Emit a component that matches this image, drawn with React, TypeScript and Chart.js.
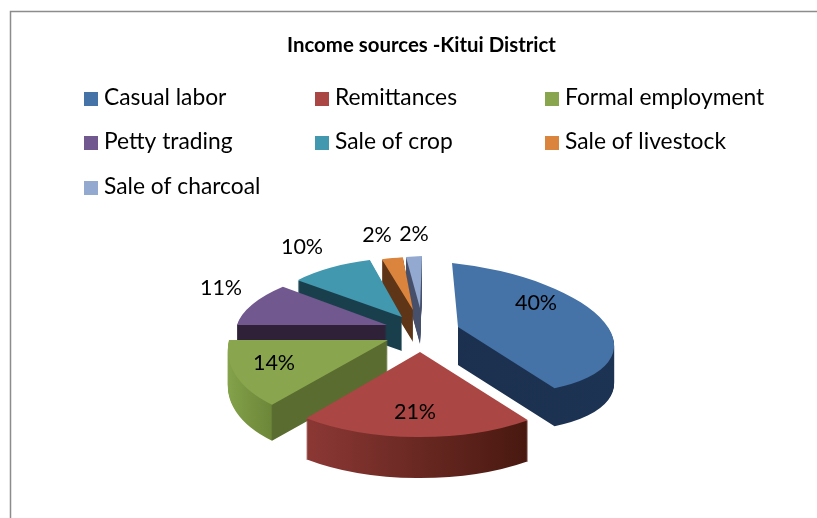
import React, { useEffect, useRef } from "react";
import { Chart, registerables } from "chart.js";

Chart.register(...registerables);

const categories = ["Casual labor", "Remittances", "Formal employment", "Petty trading", "Sale of crop", "Sale of livestock", "Sale of charcoal"];
const shares = [40, 21, 14, 11, 10, 2, 2];
const chartTitle = "Income sources -Kitui District";

const topColors = ["#4572A7", "#AA4643", "#89A54E", "#71588F", "#4198AF", "#DB843D", "#93A9CF"];
// wall colour stops over the slice's own horizontal span (-1 .. 1 of the radius)
const wallStops: [number, string][][] = [
  [[-1, "#1a2e4b"], [1, "#1d3353"]],
  [[-1, "#8f3a37"], [-0.6, "#8a3734"], [0.6, "#47180f"], [1, "#40140f"]],
  [[-1, "#85a44b"], [-0.645, "#6d8739"], [-0.635, "#5a6c30"], [1, "#5a6c30"]],
  [[-1, "#2e2138"], [1, "#2e2138"]],
  [[-1, "#1a3f4c"], [1, "#1a3f4c"]],
  [[-1, "#5f3517"], [1, "#5f3517"]],
  [[-1, "#46506b"], [1, "#46506b"]],
];
// projection of each exploded slice: apex, image of the slice's x and y radii, wall height
const apexes = [[458, 327], [420, 352], [388, 340], [387, 325], [402, 317], [413, 310], [420, 308]];
const axes = [
  [156, 16, 6, 64],
  [181, -1, 2, 85],
  [159, 0, -19, 84],
  [150, 0, -18, 60],
  [137, -1, -2, 59],
  [168, -6, -11, 54],
  [128, -5, -2, 52],
];
const wallHeights = [38, 41, 36, 30, 34, 32, 36];
const wallsStartAtApex = [true, false, false, false, false, false, false];
const paintOrder = [6, 5, 4, 3, 2, 0, 1];
const labelSpots = [[536, 303], [415, 412], [274, 363], [221, 288], [302, 247], [377, 235], [414, 234]];
const legendColumns = [84, 315, 545];
const legendRows = [98, 142, 187];

const FONT = "Lato, sans-serif";

const piePlugin = {
  id: "pie3d",
  beforeDraw(chart: any) {
    const ctx = chart.ctx;
    ctx.save();
    ctx.strokeStyle = "#8c8c8c";
    ctx.lineWidth = 1.5;
    ctx.beginPath();
    ctx.moveTo(817, 11.5);
    ctx.lineTo(10.5, 11.5);
    ctx.lineTo(10.5, 518);
    ctx.stroke();
    ctx.restore();
  },
  beforeDatasetDraw(chart: any) {
    const ctx = chart.ctx;
    const arcs = chart.getDatasetMeta(0).data;
    paintOrder.forEach((i) => {
      const arc = arcs[i];
      const R = arc.outerRadius;
      const [ax, ay] = apexes[i];
      const [m11, m21, m12, m22] = axes[i];
      const a = m11 / R, b = m21 / R, c = m12 / R, d = m22 / R;
      const base = arc.options;
      const grad = ctx.createLinearGradient(arc.x - R, 0, arc.x + R, 0);
      wallStops[i].forEach(([p, col]) => grad.addColorStop((p + 1) / 2, col));
      const paint = (dy: number, fill: any) => {
        ctx.save();
        ctx.setTransform(a, b, c, d, ax - a * arc.x - c * arc.y, ay + dy - b * arc.x - d * arc.y);
        arc.options = { ...base, backgroundColor: fill, borderWidth: 0 };
        arc.draw(ctx);
        ctx.restore();
      };
      ctx.save();
      if (wallsStartAtApex[i]) {
        ctx.beginPath();
        ctx.rect(ax, ay, chart.width - ax, chart.height - ay);
        ctx.clip();
      }
      for (let t = wallHeights[i]; t >= 1; t--) paint(t, grad);
      ctx.restore();
      paint(0, topColors[i]);
      arc.options = base;
    });
    return false;
  },
  afterDraw(chart: any) {
    const ctx = chart.ctx;
    ctx.save();
    ctx.fillStyle = "#000";
    ctx.textBaseline = "middle";
    ctx.textAlign = "center";
    ctx.font = `21.5px ${FONT}`;
    shares.forEach((v, i) => ctx.fillText(`${v}%`, labelSpots[i][0], labelSpots[i][1]));
    ctx.textAlign = "left";
    ctx.font = `22.8px ${FONT}`;
    categories.forEach((name, i) => {
      const x = legendColumns[i % 3];
      const y = legendRows[Math.floor(i / 3)];
      ctx.fillStyle = topColors[i];
      ctx.fillRect(x, y - 6, 14, 14);
      ctx.fillStyle = "#000";
      ctx.fillText(name, x + 20, y);
    });
    ctx.restore();
  },
};

export default function App() {
  const ref = useRef<HTMLCanvasElement>(null);
  useEffect(() => {
    document.body.style.margin = "0";
    const chart = new Chart(ref.current as HTMLCanvasElement, {
      type: "pie",
      data: {
        labels: categories,
        datasets: [{ data: shares, backgroundColor: topColors, borderWidth: 0 }],
      },
      options: {
        animation: false,
        responsive: false,
        layout: { padding: { left: 26 } },
        plugins: {
          legend: { display: false },
          tooltip: { enabled: false },
          title: {
            display: true,
            text: chartTitle,
            fullSize: false,
            color: "#000",
            font: { family: FONT, size: 20.4, weight: "bold" },
            padding: { top: 33, bottom: 100 },
          },
        },
      },
      plugins: [piePlugin],
    } as any);
    return () => chart.destroy();
  }, []);
  return <canvas ref={ref} width={817} height={518} style={{ display: "block" }} />;
}
